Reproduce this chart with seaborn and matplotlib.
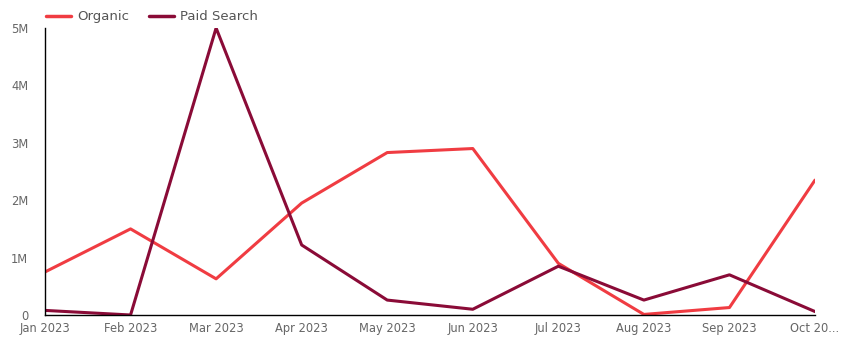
import matplotlib
matplotlib.use("Agg")
import matplotlib.pyplot as plt
import seaborn as sns
import pandas as pd
from matplotlib.ticker import FuncFormatter
from matplotlib.lines import Line2D

months = ["Jan 2023", "Feb 2023", "Mar 2023", "Apr 2023", "May 2023",
          "Jun 2023", "Jul 2023", "Aug 2023", "Sep 2023", "Oct 2023"]
tick_labels = ["Jan 2023", "Feb 2023", "Mar 2023", "Apr 2023", "May 2023",
               "Jun 2023", "Jul 2023", "Aug 2023", "Sep 2023", "Oct 20..."]
organic = [0.75, 1.50, 0.63, 1.95, 2.83, 2.90, 0.90, 0.01, 0.13, 2.35]
paid_search = [0.08, 0.0, 5.0, 1.22, 0.26, 0.10, 0.85, 0.26, 0.70, 0.06]
series_names = ["Organic", "Paid Search"]
colors = ["#f03c42", "#8a0b37"]

df = pd.DataFrame({
    "month": list(range(len(months))) * 2,
    "value": [v * 1e6 for v in organic] + [v * 1e6 for v in paid_search],
    "series": [series_names[0]] * len(months) + [series_names[1]] * len(months),
})

sns.set_theme(style="white")
plt.rcParams["font.family"] = ["DejaVu Sans"]

fig = plt.figure(figsize=(8.5, 3.46), dpi=100)
ax = fig.add_axes([45 / 850, 31 / 346, 770 / 850, 287 / 346])

sns.lineplot(data=df, x="month", y="value", hue="series",
             palette=dict(zip(series_names, colors)), linewidth=2.2, ax=ax,
             legend=False)

ax.set_xlim(0, len(months) - 1)
ax.set_ylim(0, 5e6)
ax.set_xticks(range(len(months)))
ax.set_xticklabels(tick_labels)
ax.set_yticks([0, 1e6, 2e6, 3e6, 4e6, 5e6])
ax.yaxis.set_major_formatter(FuncFormatter(lambda v, p: "0" if v == 0 else f"{int(v / 1e6)}M"))
ax.set_xlabel("")
ax.set_ylabel("")
ax.tick_params(axis="both", length=0, labelsize=8.3, labelcolor="#666666")
ax.tick_params(axis="x", pad=5)
ax.tick_params(axis="y", pad=12)

for s in ["top", "right"]:
    ax.spines[s].set_visible(False)
for s in ["left", "bottom"]:
    ax.spines[s].set_color("#000000")
    ax.spines[s].set_linewidth(1.0)

handles = [Line2D([0], [0], color=c, lw=2.5) for c in colors]
fig.legend(handles, series_names, loc="upper left", bbox_to_anchor=(0.040, 1.005),
           ncol=2, frameon=False, fontsize=9.5, labelcolor="#555555",
           handlelength=1.9, handletextpad=0.45, columnspacing=1.5)

fig.savefig("out.png", dpi=100)
